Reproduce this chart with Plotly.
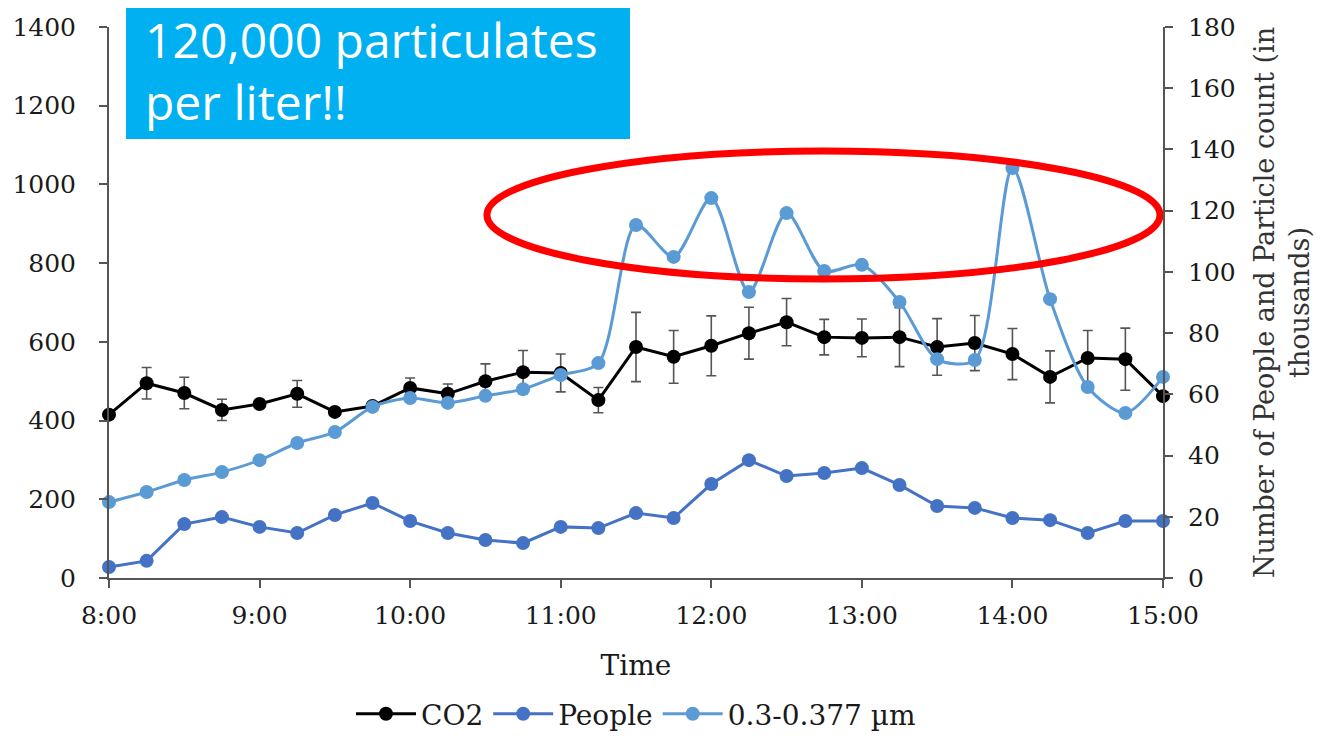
import plotly.graph_objects as go

# Time in hours (8:00 to 15:00, every 15 min)
times = [8 + 0.25 * i for i in range(29)]
tick_vals = [8, 9, 10, 11, 12, 13, 14, 15]
tick_text = ["8:00", "9:00", "10:00", "11:00", "12:00", "13:00", "14:00", "15:00"]

co2 = [415, 495, 470, 427, 442, 468, 422, 437, 483, 468, 500, 523, 521, 452,
       587, 562, 590, 622, 650, 612, 610, 612, 587, 597, 569, 511, 559, 556, 462]
co2_err = [8, 40, 40, 27, 8, 34, 8, 8, 25, 25, 44, 55, 48, 32,
           88, 67, 76, 66, 60, 45, 48, 75, 72, 70, 65, 66, 70, 79, 8]
people = [3.6, 5.6, 17.6, 19.9, 16.7, 14.7, 20.6, 24.5, 18.6, 14.7, 12.4, 11.4, 16.7, 16.3,
          21.2, 19.6, 30.7, 38.5, 33.3, 34.3, 35.9, 30.4, 23.5, 22.9, 19.6, 18.9, 14.7, 18.6, 18.6]
particles = [24.8, 28.1, 32.0, 34.6, 38.5, 44.1, 47.7, 55.9, 58.8, 57.2, 59.5, 61.7, 66.3, 70.2,
             115.3, 104.9, 124.1, 93.4, 119.2, 100.3, 102.3, 90.2, 71.5, 71.2, 133.9, 91.1, 62.4, 53.9, 65.7]

FONT = "DejaVu Serif"

fig = go.Figure()
fig.add_trace(go.Scatter(
    x=times, y=co2, name="CO2", mode="lines+markers",
    line=dict(color="black", width=3), marker=dict(color="black", size=14),
    error_y=dict(type="data", array=co2_err, color="#555555", thickness=1.6, width=5),
    cliponaxis=False,
))
fig.add_trace(go.Scatter(
    x=times, y=people, name="People", mode="lines+markers", yaxis="y2",
    line=dict(color="#4472C4", width=3), marker=dict(color="#4472C4", size=14),
    cliponaxis=False,
))
fig.add_trace(go.Scatter(
    x=times, y=particles, name="0.3-0.377 µm", mode="lines+markers", yaxis="y2",
    line=dict(color="#5B9BD5", width=3, shape="spline", smoothing=0.8),
    marker=dict(color="#5B9BD5", size=14),
    cliponaxis=False,
))

axis_common = dict(showgrid=False, zeroline=False, showline=True, linecolor="#555555",
                   linewidth=2, ticks="outside", tickcolor="#555555", tickwidth=2, ticklen=8,
                   tickfont=dict(family=FONT, size=25, color="#1a1a1a"))

fig.update_layout(
    width=1319, height=731,
    margin=dict(l=101, r=164, t=19, b=161, autoexpand=False),
    plot_bgcolor="white", paper_bgcolor="white",
    font=dict(family=FONT, size=25, color="#1a1a1a"),
    xaxis=dict(range=[8, 15], tickvals=tick_vals, ticktext=tick_text, ticklabelstandoff=6,
               title=dict(text="Time", font=dict(family=FONT, size=28), standoff=26),
               **axis_common),
    yaxis=dict(range=[0, 1400], dtick=200, ticklabelstandoff=18, **axis_common),
    yaxis2=dict(range=[0, 180], dtick=20, overlaying="y", side="right", ticklabelstandoff=10,
                title=dict(text="Number of People and Particle count (in<br>thousands)",
                           font=dict(family=FONT, size=27, color="#333333"), standoff=20),
                **axis_common),
    legend=dict(orientation="h", x=0.5, xanchor="center", yref="container", y=0.0,
                yanchor="bottom",
                font=dict(family=FONT, size=28, color="#1a1a1a"), itemwidth=60,
                bgcolor="rgba(0,0,0,0)"),
    showlegend=True,
)

# Highlight ellipse
fig.add_shape(type="circle", xref="x", yref="y2", x0=10.51, x1=14.98, y0=97.7, y1=139.5,
              line=dict(color="#FF0000", width=7))

# Callout box
fig.add_shape(type="rect", xref="paper", yref="paper",
              x0=(126 - 109) / 1054, x1=(630 - 109) / 1054,
              y0=(578 - 139) / 551, y1=(578 - 3) / 551,
              fillcolor="#00B0F0", line=dict(width=0), layer="above")
fig.add_annotation(xref="paper", yref="paper", x=(143 - 109) / 1054, y=(578 - 71) / 551,
                   xanchor="left", yanchor="middle", align="left", showarrow=False,
                   text="120,000 particulates<br>per liter!!",
                   font=dict(family="Open Sans", size=48, color="white"))

fig.write_html("out.html")
